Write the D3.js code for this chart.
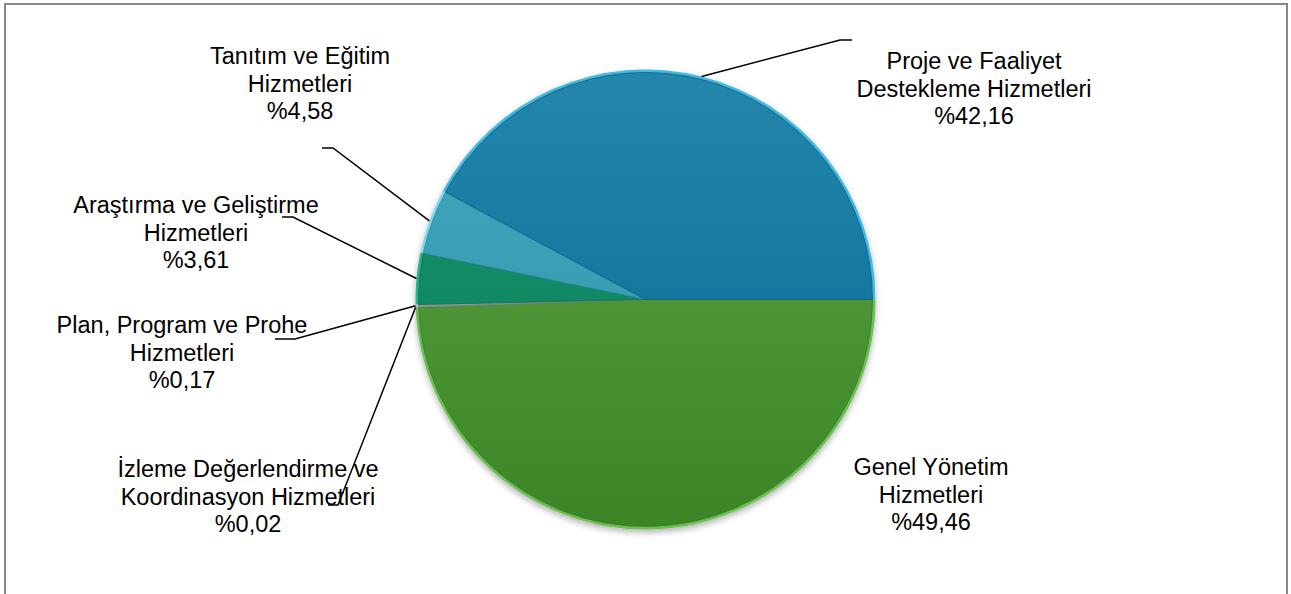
<!DOCTYPE html>
<html><head><meta charset="utf-8">
<script src="https://cdn.jsdelivr.net/npm/d3@7"></script>
<style>html,body{margin:0;padding:0;background:#fff}svg{display:block}</style>
</head><body>
<script>
const categories = ["Genel Yönetim Hizmetleri","İzleme Değerlendirme ve Koordinasyon Hizmetleri","Plan, Program ve Prohe Hizmetleri","Araştırma ve Geliştirme Hizmetleri","Tanıtım ve Eğitim Hizmetleri","Proje ve Faaliyet Destekleme Hizmetleri"];
const values = [49.46, 0.02, 0.17, 3.61, 4.58, 42.16];
const percentLabels = ["%49,46","%0,02","%0,17","%3,61","%4,58","%42,16"];
const labelLines = [
  ["Genel Yönetim","Hizmetleri"],
  ["İzleme Değerlendirme ve","Koordinasyon Hizmetleri"],
  ["Plan, Program ve Prohe","Hizmetleri"],
  ["Araştırma ve Geliştirme","Hizmetleri"],
  ["Tanıtım ve Eğitim","Hizmetleri"],
  ["Proje ve Faaliyet","Destekleme Hizmetleri"]
];
// colours: [top, bottom, rim]
const colors = [
  ["#5da548","#3c8526","#6cbf55"],
  ["#8a9a90","#7a8a80","#b0b8b0"],
  ["#9aa8a0","#84948a","#c0c8c0"],
  ["#17936d","#0b7f5b","#2fb088"],
  ["#44a8bd","#2e93aa","#7fdcec"],
  ["#2486ab","#056a92","#45b8e0"]
];
// layout (label text centre, first baseline, leader elbow, leader end)
const layout = [
  {tx:931, ty:475},
  {tx:248, ty:477, ex:338, ey:505, hx:328},
  {tx:182, ty:333, ex:295, ey:339, hx:275},
  {tx:196, ty:213, ex:293, ey:217, hx:282},
  {tx:300, ty:64,  ex:333, ey:148, hx:322},
  {tx:974, ty:69,  ex:840, ey:40,  hx:852}
];

const W=1291,H=594, cx=645.5, cy=299.5, R=230;
const svg=d3.select("body").append("svg").attr("width",W).attr("height",H);
// frame
svg.append("path").attr("d",`M5,${H} V4 H1287 V${H}`).attr("fill","none").attr("stroke","#888").attr("stroke-width",2);

const defs=svg.append("defs");
colors.forEach((c,i)=>{
  const g=defs.append("linearGradient").attr("id","g"+i).attr("gradientUnits","userSpaceOnUse")
    .attr("x1",0).attr("y1",-R).attr("x2",0).attr("y2",R);
  g.append("stop").attr("offset","0%").attr("stop-color",c[0]);
  g.append("stop").attr("offset","100%").attr("stop-color",c[1]);
});
const f=defs.append("filter").attr("id","sh").attr("x","-10%").attr("y","-10%").attr("width","120%").attr("height","125%");
f.append("feDropShadow").attr("dx",0).attr("dy",3).attr("stdDeviation",3).attr("flood-color","#000").attr("flood-opacity",0.3);

const pie=d3.pie().sort(null).value(d=>d).startAngle(Math.PI/2).endAngle(Math.PI/2+2*Math.PI);
const arcs=pie(values);
const arc=d3.arc().innerRadius(0).outerRadius(R);
const arcIn=d3.arc().innerRadius(0).outerRadius(R-3);
const g=svg.append("g").attr("transform",`translate(${cx},${cy})`);
const gs=g.append("g").attr("filter","url(#sh)");
gs.selectAll("path.s").data(arcs).join("path").attr("class","s")
  .attr("d",arc).attr("fill",(d,i)=>colors[i][2]);
g.selectAll("path.i").data(arcs).join("path").attr("class","i")
  .attr("d",arcIn).attr("fill",(d,i)=>`url(#g${i})`)
  .attr("stroke",(d,i)=>d3.color(colors[i][1]).darker(0.3)).attr("stroke-width",0.8);

// leader lines
const lines=svg.append("g");
arcs.forEach((a,i)=>{
  const L=layout[i]; if(L.ex===undefined) return;
  const m=(a.startAngle+a.endAngle)/2;
  const px=cx+R*Math.sin(m), py=cy-R*Math.cos(m);
  lines.append("path").attr("d",`M${px},${py} L${L.ex},${L.ey} L${L.hx},${L.ey}`)
    .attr("fill","none").attr("stroke","#000").attr("stroke-width",1.5);
});

// labels
const lab=svg.append("g").attr("font-family","'Liberation Sans',Arial,sans-serif").attr("font-size",23.5).attr("fill","#000").attr("text-anchor","middle");
arcs.forEach((a,i)=>{
  const L=layout[i];
  const t=lab.append("text").attr("x",L.tx).attr("y",L.ty);
  const ls=labelLines[i].concat([percentLabels[i]]);
  ls.forEach((s,j)=>t.append("tspan").attr("x",L.tx).attr("dy",j?27.7:0).text(s));
});
</script>
</body></html>
